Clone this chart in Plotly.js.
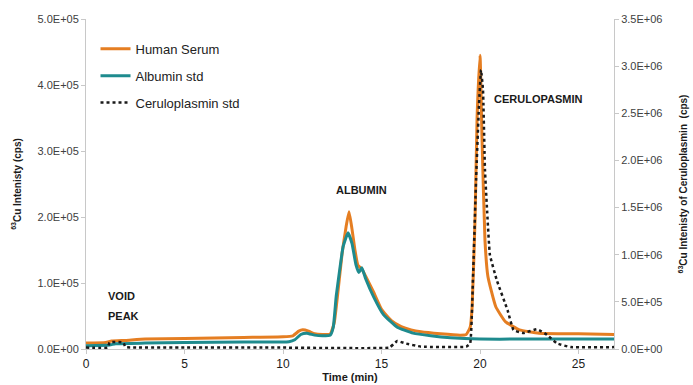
<!DOCTYPE html>
<html>
<head>
<meta charset="utf-8">
<script src="https://cdn.plot.ly/plotly-3.0.1.min.js"></script>
<style>html,body{margin:0;padding:0;background:#fff}#chart{width:693px;height:385px}</style>
</head>
<body>
<div id="chart"></div>
<script>
// Human Serum (left axis, cps)
const serumTime = [0, 1.0, 1.3, 2, 3, 5, 8, 10, 10.5, 10.8, 11.0, 11.3, 11.6, 12.0, 12.4, 12.6, 12.8, 13.0, 13.2, 13.35, 13.5, 13.65, 13.8, 14.0, 14.2, 14.6, 15.0, 15.5, 16.0, 16.5, 17.0, 18.0, 19.0, 19.3, 19.5, 19.6, 19.75, 19.85, 20.0, 20.1, 20.25, 20.4, 20.8, 21.3, 22.0, 23.0, 25, 26.8];
const serumCps  = [9000, 10000, 12000, 13000, 15000, 16000, 17500, 18500, 20000, 27000, 29000, 27000, 23000, 22000, 23000, 40000, 90000, 145000, 185000, 208000, 182000, 150000, 127000, 121000, 110000, 86000, 60000, 43000, 34000, 29000, 26000, 23000, 21000, 22000, 33000, 64000, 200000, 350000, 445000, 320000, 165000, 110000, 64000, 41000, 29000, 24000, 23000, 22000];

// Albumin std (left axis, cps)
const albTime = [0, 1.2, 1.5, 3, 5, 8, 10.3, 10.6, 10.9, 11.2, 11.6, 12.0, 12.4, 12.55, 12.7, 12.9, 13.05, 13.3, 13.5, 13.7, 13.85, 14.0, 14.2, 14.6, 15.1, 15.8, 16.6, 17.5, 18.5, 20, 22, 24, 26.8];
const albCps  = [5000, 6000, 8000, 9000, 10000, 10500, 11000, 14000, 22000, 24000, 21000, 20000, 21000, 33000, 80000, 125000, 155000, 176000, 160000, 128000, 116000, 123000, 106000, 79000, 52000, 33000, 24000, 20000, 17000, 15000, 15000, 15000, 15000];

// Ceruloplasmin std (right axis, cps)
const ceruTime = [0, 1.1, 1.2, 1.9, 2.0, 2.5, 5, 10, 15.4, 15.6, 15.8, 16.2, 17.0, 19.3, 19.5, 19.65, 19.8, 19.95, 20.05, 20.15, 20.25, 20.35, 20.5, 20.85, 21.4, 21.7, 22.2, 22.9, 23.4, 23.9, 24.6, 26.8];
const ceruCps  = [15000, 15000, 70000, 70000, 20000, 15000, 15000, 15000, 15000, 50000, 85000, 60000, 25000, 25000, 60000, 800000, 1800000, 2600000, 2960000, 2750000, 1900000, 1500000, 1000000, 730000, 410000, 200000, 170000, 210000, 150000, 60000, 20000, 20000];

const leftTickVals  = [0, 100000, 200000, 300000, 400000, 500000];
const leftTickText  = ["0.0E+00", "1.0E+05", "2.0E+05", "3.0E+05", "4.0E+05", "5.0E+05"];
const rightTickVals = [0, 500000, 1000000, 1500000, 2000000, 2500000, 3000000, 3500000];
const rightTickText = ["0.0E+00", "5.0E+05", "1.0E+06", "1.5E+06", "2.0E+06", "2.5E+06", "3.0E+06", "3.5E+06"];
const xTickVals = [0, 5, 10, 15, 20, 25];

const tickFont = {family: "Liberation Sans Narrow, Arial Narrow, Liberation Sans, Arial, sans-serif", size: 11, color: "#404040"};
const boldFont = {family: "Liberation Sans, Arial, sans-serif", size: 11, color: "#1a1a1a"};

const traces = [
  {x: serumTime, y: serumCps, name: "Human Serum", type: "scatter", mode: "lines",
   line: {color: "#E57E22", width: 3, shape: "spline", smoothing: 0.4}, legendgroup: "a"},
  {x: albTime, y: albCps, name: "Albumin std", type: "scatter", mode: "lines",
   line: {color: "#1E8B8E", width: 3, shape: "spline", smoothing: 0.4}, legendgroup: "b"},
  {x: ceruTime, y: ceruCps, name: "Ceruloplasmin std", type: "scatter", mode: "lines", yaxis: "y2",
   line: {color: "#1a1a1a", width: 2.5, dash: "dot", shape: "spline", smoothing: 0.3}, legendgroup: "c"}
];

const layout = {
  width: 693, height: 385,
  margin: {l: 86, r: 79, t: 19, b: 36},
  paper_bgcolor: "#fff", plot_bgcolor: "#fff",
  showlegend: true,
  legend: {x: 0.018, y: 0.955, xanchor: "left", yanchor: "top", bgcolor: "rgba(0,0,0,0)",
           font: {family: "Liberation Sans Narrow, Arial Narrow, Liberation Sans, Arial, sans-serif", size: 13, color: "#222"},
           itemwidth: 30, tracegroupgap: 7},
  xaxis: {range: [0, 26.8], tickvals: xTickVals, showgrid: false, zeroline: false,
          showline: true, linecolor: "#c8c8c8", linewidth: 1, ticks: "outside", ticklen: 4, tickcolor: "#c8c8c8",
          tickfont: {family: "Liberation Sans Narrow, Arial Narrow, Liberation Sans, Arial, sans-serif", size: 12, color: "#1a1a1a"},
          title: {text: "<b>Time (min)</b>", font: boldFont, standoff: 0}},
  yaxis: {range: [0, 500000], tickvals: leftTickVals, ticktext: leftTickText, showgrid: false, zeroline: false,
          showline: true, linecolor: "#c8c8c8", linewidth: 1, ticks: "outside", ticklen: 4, tickcolor: "#c8c8c8",
          tickfont: tickFont,
          title: {text: "<b><sup>63</sup>Cu Intenisty (cps)</b>", font: {family: "Liberation Sans, Arial, sans-serif", size: 10, color: "#1a1a1a"}, standoff: 14}},
  yaxis2: {range: [0, 3500000], tickvals: rightTickVals, ticktext: rightTickText, overlaying: "y", side: "right",
          showgrid: false, zeroline: false,
          showline: true, linecolor: "#c8c8c8", linewidth: 1, ticks: "outside", ticklen: 4, tickcolor: "#c8c8c8",
          tickfont: tickFont,
          title: {text: "<b><sup>63</sup>Cu Intenisty of Ceruloplasmin  (cps)</b>", font: {family: "Liberation Sans, Arial, sans-serif", size: 10, color: "#1a1a1a"}, standoff: 18}},
  annotations: [
    {x: 1.0, y: 80000, xref: "x", yref: "y", text: "<b>VOID</b>", showarrow: false, xanchor: "left", align: "left", font: boldFont},
    {x: 1.0, y: 50000, xref: "x", yref: "y", text: "<b>PEAK</b>", showarrow: false, xanchor: "left", align: "left", font: boldFont},
    {x: 14.0, y: 241000, xref: "x", yref: "y", text: "<b>ALBUMIN</b>", showarrow: false, font: boldFont},
    {x: 20.6, y: 379000, xref: "x", yref: "y", text: "<b>CERULOPASMIN</b>", showarrow: false, xanchor: "left", font: boldFont}
  ]
};

Plotly.newPlot("chart", traces, layout, {displayModeBar: false, staticPlot: true});
</script>
</body>
</html>
